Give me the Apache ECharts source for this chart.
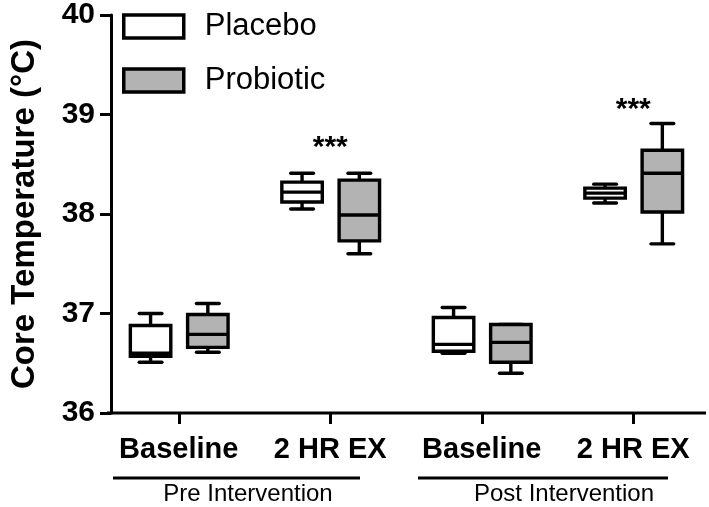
<!DOCTYPE html>
<html>
<head>
<meta charset="utf-8">
<script src="https://cdn.jsdelivr.net/npm/echarts@6/dist/echarts.min.js"></script>
<style>
html,body{margin:0;padding:0;background:#fff;}
#chart{width:709px;height:507px;}
</style>
</head>
<body>
<div id="chart"></div>
<script>
// ---- data ----
const categories = ['Baseline', '2 HR EX', 'Baseline', '2 HR EX'];
const groupLabels = ['Pre Intervention', 'Post Intervention'];
const seriesNames = ['Placebo', 'Probiotic'];
// [min, Q1, median, Q3, max]
const placeboStats = [
  [36.51, 36.57, 36.60, 36.88, 37.00],
  [38.05, 38.12, 38.22, 38.32, 38.41],
  [36.60, 36.62, 36.69, 36.96, 37.06],
  [38.11, 38.16, 38.21, 38.26, 38.30]
];
const probioticStats = [
  [36.61, 36.66, 36.79, 36.99, 37.10],
  [37.60, 37.73, 37.99, 38.34, 38.41],
  [36.40, 36.51, 36.71, 36.89, 36.89],
  [37.70, 38.02, 38.41, 38.64, 38.91]
];
const yTicks = [36, 37, 38, 39, 40];
// significance markers: [category index, y value, text]
const sigMarks = [[1, 38.67, '***'], [3, 39.05, '***']];

const FONT = 'Liberation Sans, Arial, Helvetica, sans-serif';

function toRows(stats) {
  return stats.map((s, i) => [i].concat(s));
}

function makeRender(offsetFrac, fill) {
  return function (params, api) {
    const ci = api.value(0);
    const band = api.size([1, 0])[0];
    const cx = api.coord([ci, 36])[0] + band * offsetFrac;
    const yMin = api.coord([ci, api.value(1)])[1];
    const yQ1 = api.coord([ci, api.value(2)])[1];
    const yMed = api.coord([ci, api.value(3)])[1];
    const yQ3 = api.coord([ci, api.value(4)])[1];
    const yMax = api.coord([ci, api.value(5)])[1];
    const bw = band * 0.267;
    const cw = band * 0.15;
    const ls = { stroke: '#000', lineWidth: 3.4 };
    return {
      type: 'group',
      children: [
        { type: 'line', shape: { x1: cx, y1: yMax, x2: cx, y2: yQ3 }, style: ls },
        { type: 'line', shape: { x1: cx, y1: yQ1, x2: cx, y2: yMin }, style: ls },
        { type: 'line', shape: { x1: cx - cw / 2, y1: yMax, x2: cx + cw / 2, y2: yMax }, style: Object.assign({ lineCap: 'round' }, ls) },
        { type: 'line', shape: { x1: cx - cw / 2, y1: yMin, x2: cx + cw / 2, y2: yMin }, style: Object.assign({ lineCap: 'round' }, ls) },
        { type: 'rect', shape: { x: cx - bw / 2, y: yQ3, width: bw, height: yQ1 - yQ3 }, style: { fill: fill, stroke: '#000', lineWidth: 3.4 } },
        { type: 'line', shape: { x1: cx - bw / 2, y1: yMed, x2: cx + bw / 2, y2: yMed }, style: ls }
      ]
    };
  };
}

const chart = echarts.init(document.getElementById('chart'), null, { renderer: 'canvas' });

const option = {
  animation: false,
  backgroundColor: '#fff',
  grid: { left: 100, top: 13, width: 615, height: 400, containLabel: false },
  legend: {
    orient: 'vertical',
    left: 117,
    top: 6,
    itemWidth: 60,
    itemHeight: 23,
    itemGap: 23,
    icon: 'rect',
    textStyle: { fontFamily: FONT, fontSize: 31, color: '#000', padding: [0, 0, 0, 16] },
    data: [
      { name: 'Placebo', itemStyle: { color: '#ffffff', borderColor: '#000', borderWidth: 3.5 } },
      { name: 'Probiotic', itemStyle: { color: '#b3b3b3', borderColor: '#000', borderWidth: 3.5 } }
    ]
  },
  xAxis: {
    type: 'category',
    data: categories,
    boundaryGap: true,
    axisLine: { show: false },
    axisTick: { show: true, alignWithLabel: true, length: 11, lineStyle: { color: '#000', width: 3 } },
    axisLabel: { fontFamily: FONT, fontSize: 29, fontWeight: 'bold', color: '#000', margin: 22, interval: 0 },
    splitLine: { show: false }
  },
  yAxis: {
    type: 'value',
    min: yTicks[0],
    max: yTicks[yTicks.length - 1],
    interval: 1,
    offset: -8,
    name: 'Core Temperature (°C)',
    nameLocation: 'middle',
    nameGap: 70,
    nameTextStyle: { fontFamily: FONT, fontSize: 33, fontWeight: 'bold', color: '#000' },
    axisLine: { show: true, lineStyle: { color: '#000', width: 3 } },
    axisTick: { show: true, length: 11, lineStyle: { color: '#000', width: 3 } },
    axisLabel: { fontFamily: FONT, fontSize: 30, fontWeight: 'bold', color: '#000', margin: 16 },
    splitLine: { show: false }
  },
  graphic: [
    { type: 'line', shape: { x1: 107, y1: 413, x2: 706, y2: 413 }, style: { stroke: '#000', lineWidth: 3 }, z: 10 },
    { type: 'line', shape: { x1: 113, y1: 478, x2: 360, y2: 478 }, style: { stroke: '#000', lineWidth: 3 } },
    { type: 'line', shape: { x1: 418, y1: 478, x2: 668, y2: 478 }, style: { stroke: '#000', lineWidth: 3 } },
    { type: 'text', x: 248, y: 494, style: { text: groupLabels[0], fontFamily: FONT, fontSize: 24, fill: '#000', textAlign: 'center', textVerticalAlign: 'middle' } },
    { type: 'text', x: 564, y: 494, style: { text: groupLabels[1], fontFamily: FONT, fontSize: 24, fill: '#000', textAlign: 'center', textVerticalAlign: 'middle' } }
  ],
  series: [
    {
      name: seriesNames[0],
      type: 'custom',
      itemStyle: { color: '#ffffff', borderColor: '#000' },
      renderItem: makeRender(-0.186, '#ffffff'),
      encode: { x: 0, y: [1, 2, 3, 4, 5] },
      data: toRows(placeboStats),
      z: 3
    },
    {
      name: seriesNames[1],
      type: 'custom',
      itemStyle: { color: '#b3b3b3', borderColor: '#000' },
      renderItem: makeRender(0.192, '#b3b3b3'),
      encode: { x: 0, y: [1, 2, 3, 4, 5] },
      data: toRows(probioticStats),
      z: 3
    },
    {
      name: 'sig',
      type: 'custom',
      renderItem: function (params, api) {
        const p = api.coord([api.value(0), api.value(1)]);
        return {
          type: 'text',
          x: p[0], y: p[1],
          style: { text: sigMarks[params.dataIndex][2], fontFamily: FONT, fontSize: 30, fontWeight: 'bold', fill: '#000', textAlign: 'center', textVerticalAlign: 'middle' }
        };
      },
      encode: { x: 0, y: 1 },
      data: sigMarks.map(m => [m[0], m[1]]),
      z: 4
    }
  ]
};
chart.setOption(option);
</script>
</body>
</html>
